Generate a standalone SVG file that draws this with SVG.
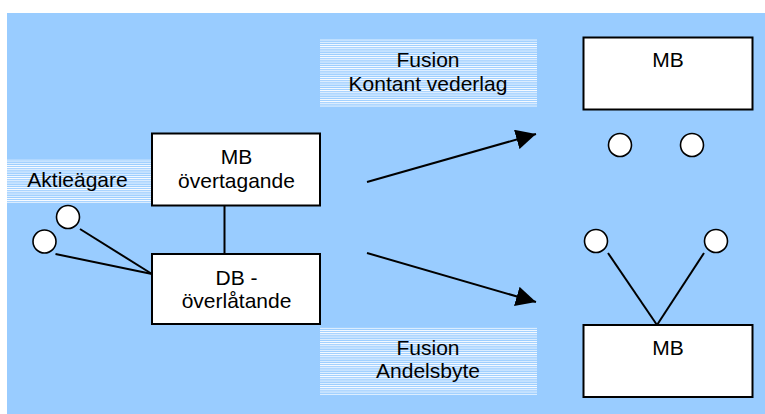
<svg xmlns="http://www.w3.org/2000/svg" width="765" height="414" viewBox="0 0 765 414">
  <defs>
    <!-- fine horizontal white rules used behind the labels -->
    <pattern id="rules" x="0" y="0" width="10" height="2.2" patternUnits="userSpaceOnUse">
      <rect x="0" y="0" width="10" height="2.2" fill="#99ccff"/>
      <rect x="0" y="0" width="10" height="0.9" fill="#ffffff"/>
    </pattern>
    <marker id="arrow" viewBox="0 0 10 10" refX="10" refY="5" markerWidth="10" markerHeight="10" markerUnits="strokeWidth" orient="auto">
      <path d="M0,0 L10,5 L0,10 Z" fill="#000"/>
    </marker>
    <style>
      text { font-family: "Liberation Sans", Arial, sans-serif; font-size: 21px; fill: #000; text-anchor: middle; }
      .box { fill: #fff; stroke: #000; stroke-width: 2; }
      .owner { fill: #fff; stroke: #000; stroke-width: 1.6; }
      .line { stroke: #000; stroke-width: 2; fill: none; }
    </style>
  </defs>

  <!-- page background -->
  <rect x="0" y="0" width="765" height="414" fill="#ffffff"/>
  <rect x="7" y="13" width="758" height="401" fill="#99ccff"/>

  <!-- ruled label panels -->
  <rect x="7" y="159" width="146" height="44" fill="url(#rules)"/>
  <rect x="320" y="39" width="217" height="68" fill="url(#rules)"/>
  <rect x="320" y="327" width="217" height="68" fill="url(#rules)"/>

  <!-- connectors -->
  <g id="connectors">
    <line class="line" x1="224.5" y1="205" x2="224.5" y2="254"/>
    <line class="line" x1="80" y1="229" x2="152" y2="274"/>
    <line class="line" x1="55.5" y1="254" x2="152" y2="274"/>
    <line class="line" x1="608" y1="253" x2="657" y2="325"/>
    <line class="line" x1="704" y1="253" x2="657" y2="325"/>
    <line class="line" x1="367" y1="182" x2="536" y2="134" marker-end="url(#arrow)"/>
    <line class="line" x1="367" y1="253" x2="536" y2="302" marker-end="url(#arrow)"/>
  </g>

  <!-- labels on ruled panels -->
  <g id="label-aktieagare">
    <text x="77.5" y="187">Aktieägare</text>
  </g>
  <g id="label-kontant">
    <text x="428" y="67">Fusion</text>
    <text x="428" y="91">Kontant vederlag</text>
  </g>
  <g id="label-andelsbyte">
    <text x="428" y="355">Fusion</text>
    <text x="428" y="378">Andelsbyte</text>
  </g>

  <!-- shareholders, left -->
  <g id="owner-left-1"><circle class="owner" cx="68" cy="217" r="11.5"/></g>
  <g id="owner-left-2"><circle class="owner" cx="44.5" cy="241.5" r="11.5"/></g>

  <!-- acquiring company -->
  <g id="mb-overtagande">
    <rect class="box" x="152" y="133.5" width="168" height="72"/>
    <text x="236.5" y="164">MB</text>
    <text x="236.5" y="188">övertagande</text>
  </g>

  <!-- transferring company -->
  <g id="db-overlatande">
    <rect class="box" x="152" y="254" width="168" height="70"/>
    <text x="236.5" y="285">DB -</text>
    <text x="236.5" y="308">överlåtande</text>
  </g>

  <!-- result: cash consideration -->
  <g id="mb-kontant">
    <rect class="box" x="583.5" y="37.5" width="169" height="72"/>
    <text x="668" y="67">MB</text>
  </g>
  <g id="owner-cash-1"><circle class="owner" cx="620" cy="145" r="11.5"/></g>
  <g id="owner-cash-2"><circle class="owner" cx="692" cy="145" r="11.5"/></g>

  <!-- result: share exchange -->
  <g id="owner-share-1"><circle class="owner" cx="596" cy="241" r="11.5"/></g>
  <g id="owner-share-2"><circle class="owner" cx="716" cy="241" r="11.5"/></g>
  <g id="mb-andelsbyte">
    <rect class="box" x="583.5" y="325" width="169" height="72"/>
    <text x="668" y="355">MB</text>
  </g>
</svg>
